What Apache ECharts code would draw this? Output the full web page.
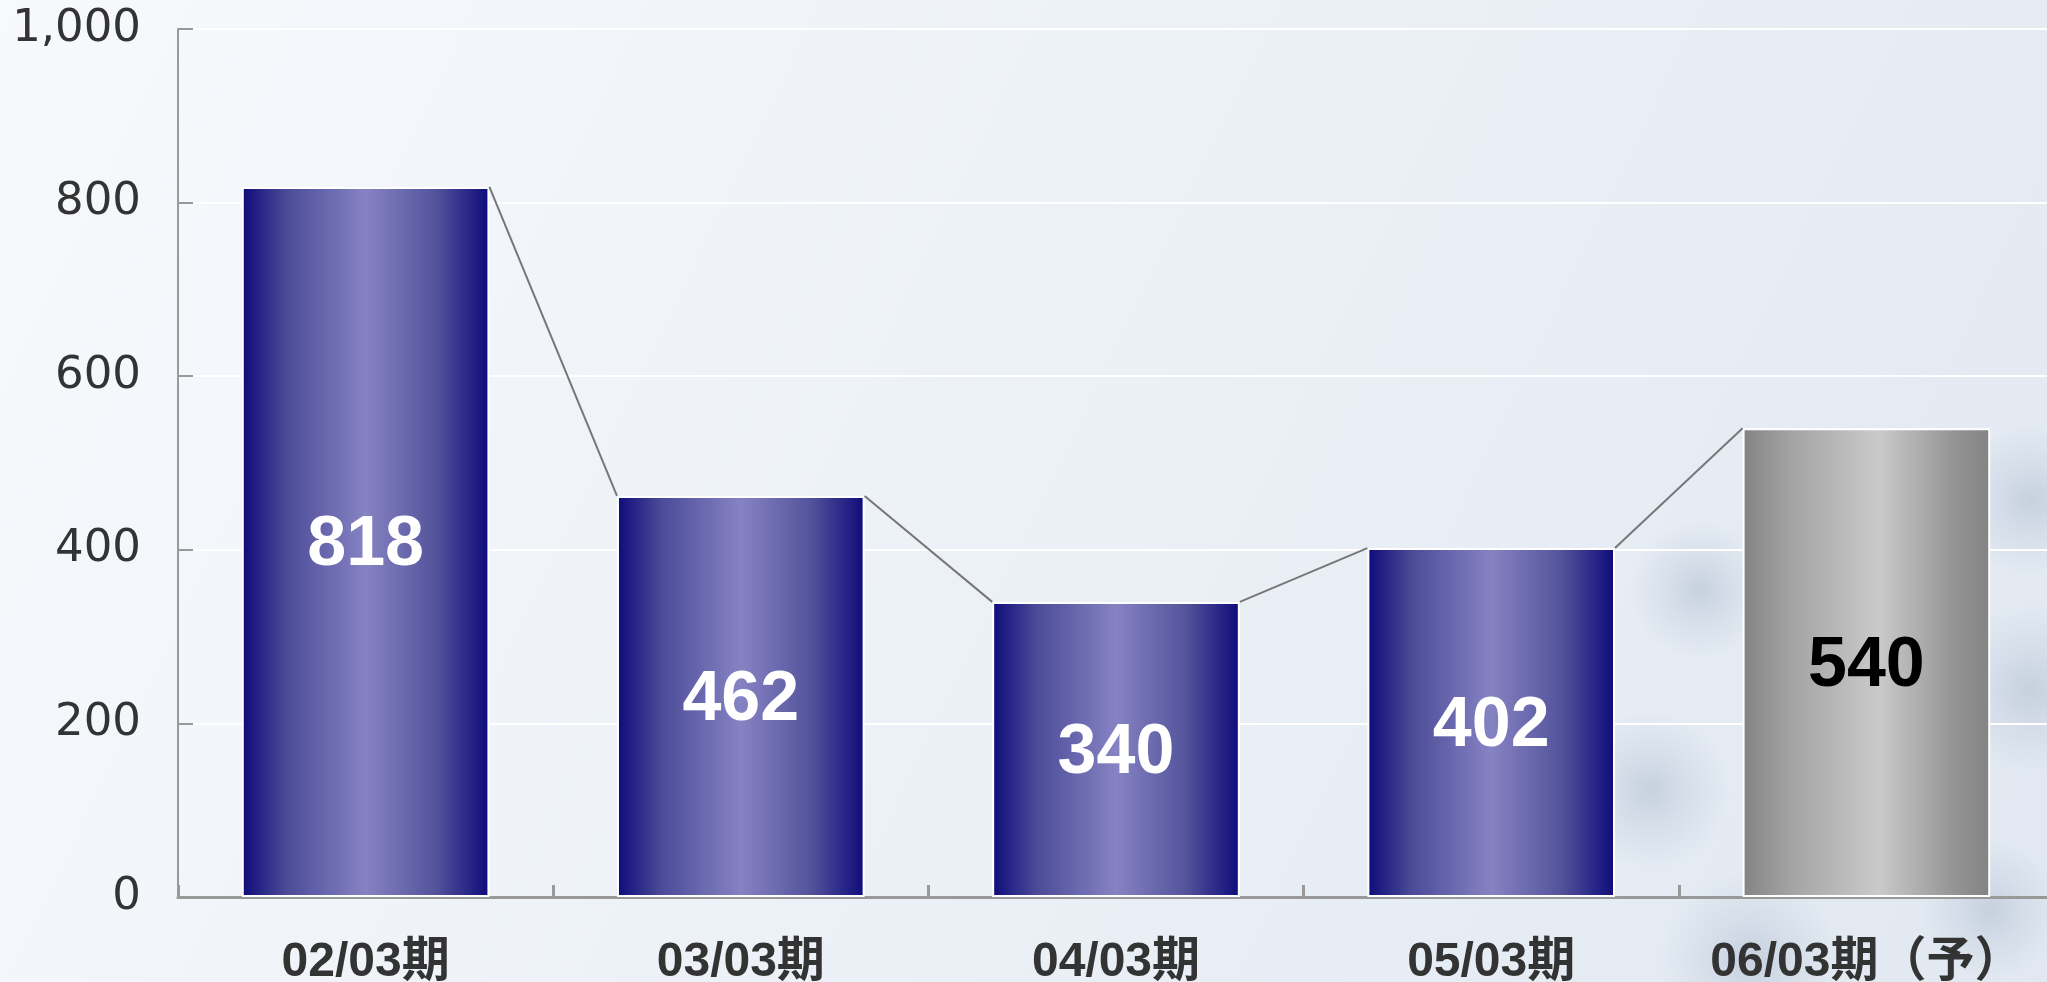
<!DOCTYPE html>
<html>
<head>
<meta charset="utf-8">
<script src="https://cdn.jsdelivr.net/npm/echarts@6/dist/echarts.min.js"></script>
<style>
  html, body { margin: 0; padding: 0; }
  #chart { width: 2047px; height: 982px; }
</style>
</head>
<body>
<div id="chart"></div>
<script>
// periods on the x axis
const categories = ['02/03期', '03/03期', '04/03期', '05/03期', '06/03期（予）']
// values per period (last one is the forecast)
const values = [818, 462, 340, 402, 540]
const forecastIndex = 4
// y axis ticks
const yMin = 0
const yMax = 1000
const yStep = 200

const barRatio = 0.66

const navyGradient = {
  type: 'linear', x: 0, y: 0, x2: 1, y2: 0,
  colorStops: [
    { offset: 0, color: '#0e0b7a' },
    { offset: 0.18, color: '#4b4b98' },
    { offset: 0.5, color: '#8683c3' },
    { offset: 0.78, color: '#54549c' },
    { offset: 1, color: '#0e0b7a' }
  ]
}
const grayGradient = {
  type: 'linear', x: 0, y: 0, x2: 1, y2: 0,
  colorStops: [
    { offset: 0, color: '#838383' },
    { offset: 0.2, color: '#a4a4a4' },
    { offset: 0.55, color: '#cacaca' },
    { offset: 0.85, color: '#959595' },
    { offset: 1, color: '#838383' }
  ]
}

const barData = values.map((v, i) => ({
  value: v,
  itemStyle: { color: i === forecastIndex ? grayGradient : navyGradient },
  label: { color: i === forecastIndex ? '#000' : '#fff' }
}))

// lines joining the top right corner of a bar to the top left corner of the next
const connectors = values.slice(0, -1).map((v, i) => [i, v, values[i + 1]])

// soft smudges in the lower right of the background
const blob = (x, y, r) => ({
  type: 'circle',
  z: -10,
  silent: true,
  shape: { cx: x, cy: y, r: r },
  style: {
    fill: {
      type: 'radial', x: 0.5, y: 0.5, r: 0.5,
      colorStops: [
        { offset: 0, color: 'rgba(188,200,216,0.75)' },
        { offset: 0.5, color: 'rgba(190,202,218,0.35)' },
        { offset: 1, color: 'rgba(190,202,218,0)' }
      ]
    }
  }
})

const chart = echarts.init(document.getElementById('chart'))
chart.setOption({
  animation: false,
  backgroundColor: {
    type: 'linear', x: 0, y: 0, x2: 1, y2: 1,
    colorStops: [
      { offset: 0, color: '#f7f9fc' },
      { offset: 0.5, color: '#ecf1f7' },
      { offset: 1, color: '#e1e8f1' }
    ]
  },
  graphic: [
    blob(1700, 590, 70),
    blob(1650, 790, 80),
    blob(2030, 500, 75),
    blob(2030, 690, 85),
    blob(1750, 960, 90),
    blob(1990, 910, 70)
  ],
  grid: {
    left: 178,
    top: 29,
    width: 1876,
    bottom: 85,
    containLabel: false,
    outerBoundsMode: 'none'
  },
  xAxis: {
    type: 'category',
    data: categories,
    axisLine: { lineStyle: { color: '#999', width: 3 } },
    axisTick: { show: true, inside: true, interval: 0, length: 12, lineStyle: { color: '#999', width: 3 } },
    axisLabel: {
      interval: 0,
      margin: 42,
      fontSize: 48,
      fontWeight: 'bold',
      color: '#333',
      fontFamily: '"Liberation Sans", "Noto Sans CJK JP", sans-serif'
    },
    splitLine: { show: false }
  },
  yAxis: {
    type: 'value',
    min: yMin,
    max: yMax,
    interval: yStep,
    axisLine: { show: true, lineStyle: { color: '#999', width: 2 } },
    axisTick: { show: true, inside: true, length: 15, lineStyle: { color: '#999', width: 2 } },
    axisLabel: {
      margin: 37,
      fontSize: 45,
      color: '#333',
      fontFamily: '"DejaVu Sans", sans-serif',
      formatter: (v) => v.toLocaleString('en-US')
    },
    splitLine: { lineStyle: { color: '#ffffff', width: 2 } }
  },
  series: [
    {
      type: 'bar',
      data: barData,
      barWidth: (barRatio * 100) + '%',
      itemStyle: { borderColor: '#ffffff', borderWidth: 2 },
      label: {
        show: true,
        position: 'inside',
        offset: [0, 4],
        fontSize: 70,
        fontWeight: 'bold',
        fontFamily: '"Liberation Sans", sans-serif'
      }
    },
    {
      type: 'custom',
      data: connectors,
      encode: { x: 0, y: 1 },
      z: 3,
      renderItem: (params, api) => {
        const i = api.value(0)
        const p1 = api.coord([i, api.value(1)])
        const p2 = api.coord([i + 1, api.value(2)])
        const half = api.size([1, 0])[0] * barRatio / 2
        return {
          type: 'line',
          shape: { x1: p1[0] + half, y1: p1[1], x2: p2[0] - half, y2: p2[1] },
          style: { stroke: '#777', lineWidth: 2 }
        }
      }
    }
  ]
})
</script>
</body>
</html>
